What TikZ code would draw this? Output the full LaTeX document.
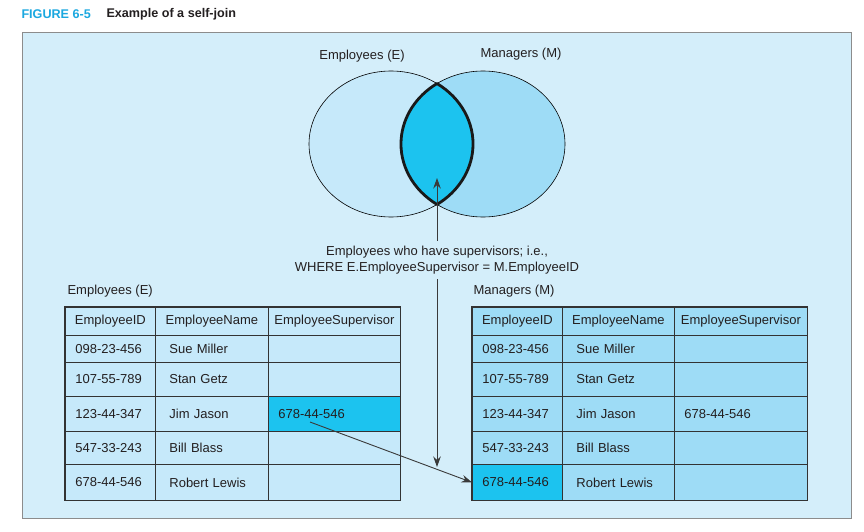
\documentclass[tikz,border=0pt]{standalone}
\usepackage{fontspec}
\setmainfont{Liberation Sans}
\usetikzlibrary{arrows.meta,shapes.geometric}
\definecolor{bgc}{HTML}{D4EEFA}
\definecolor{frameC}{HTML}{8C8C8C}
\definecolor{lightC}{HTML}{C6E9FA}
\definecolor{midC}{HTML}{9EDCF6}
\definecolor{hlC}{HTML}{1CC3EF}
\definecolor{txt}{HTML}{231F20}
\definecolor{lineC}{HTML}{333333}
\definecolor{arrC}{HTML}{3A3A3A}
\definecolor{titleC}{HTML}{1BA8E0}
\newcommand\setcols[6]{\def\xa{#1}\def\xb{#2}\def\xc{#3}\def\wa{#4}\def\wb{#5}\def\wc{#6}%
  \pgfmathsetmacro\twa{#4-20}\pgfmathsetmacro\twb{#5-28}\pgfmathsetmacro\twc{#6-20}%
  \pgfmathsetmacro\hwa{#4-2}\pgfmathsetmacro\hwb{#5-2}\pgfmathsetmacro\hwc{#6-2}}
\newcommand\hdrrow[3]{%
  \node[hdrbox,fill=#3,minimum width=\wa pt,text width=\hwa pt,minimum height=#2pt] (#1-h-1) at (\xa,307) {EmployeeID};
  \node[hdrbox,fill=#3,minimum width=\wb pt,text width=\hwb pt,minimum height=#2pt] (#1-h-2) at (\xb,307) {EmployeeName};
  \node[hdrbox,fill=#3,minimum width=\wc pt,text width=\hwc pt,minimum height=#2pt] (#1-h-3) at (\xc,307) {EmployeeSupervisor};}
\newcommand\datarow[9]{%
  \node[cellbox,fill=#7,minimum width=\wa pt,text width=\twa pt,inner xsep=10pt,minimum height=#3pt] (#1-1) at (\xa,#2) {#4};
  \node[cellbox,fill=#8,minimum width=\wb pt,text width=\twb pt,inner xsep=14pt,minimum height=#3pt] (#1-2) at (\xb,#2) {#5};
  \node[cellbox,fill=#9,minimum width=\wc pt,text width=\twc pt,inner xsep=10pt,minimum height=#3pt] (#1-3) at (\xc,#2) {#6};}
\begin{document}
\begin{tikzpicture}[x=1pt,y=-1pt,
  every node/.style={font=\fontsize{13}{16}\selectfont, text=txt},
  cellbox/.style={draw=lineC, line width=0.8pt, rectangle, anchor=north west, inner ysep=0pt, align=left},
  hdrbox/.style={cellbox, align=center, inner xsep=1pt},
  arr/.style={draw=arrC, line width=0.9pt, -{Stealth[length=10.5pt,width=7.5pt]}},
  titletext/.style={anchor=west, font=\bfseries\fontsize{12.6}{14}\selectfont},
  venn/.style={ellipse, draw=black, line width=0.6pt, minimum width=164pt, minimum height=146pt, inner sep=0pt},
  tabframe/.style={draw=lineC, line width=1.2pt}
]
\useasboundingbox (0,0) rectangle (864,532);
\fill[white] (0,0) rectangle (864,532);
% title
\node[titletext, text=titleC] (fig) at (18,14) {FIGURE 6-5};
\node[titletext] (ttl) at (103,14) {Example of a self-join};
% frame
\node[draw=frameC, fill=bgc, line width=1.4pt, minimum width=829pt, minimum height=486pt, anchor=north west, inner sep=0pt] (frame) at (22,32) {};
% Venn
\node[venn, fill=lightC] (vE) at (391,144) {};
\node[venn, fill=midC] (vM) at (483,144) {};
\draw[line width=2.8pt, draw=black!90, fill=hlC, line join=round]
  (437,83.55) arc[start angle=55.9, end angle=-55.9, x radius=82pt, y radius=73pt]
  arc[start angle=235.9, end angle=124.1, x radius=82pt, y radius=73pt] -- cycle;
\node (lblE) at (362,56) {Employees (E)};
\node (lblM) at (521,54) {Managers (M)};
% condition text
\node[align=center, inner ysep=5pt] (cond) at (437,260) {Employees who have supervisors; i.e.,\\WHERE E.EmployeeSupervisor = M.EmployeeID};
\coordinate (lensTip) at (437,178);
\coordinate (downTip) at (437,467);
\draw[arr] (cond.north) -- (lensTip);
\draw[arr] (cond.south) -- (downTip);
% left table
\node[anchor=west] (tlE) at (64,291) {Employees (E)};
\setcols{65}{155}{268}{90}{113}{132}
\hdrrow{L}{28}{lightC}
\datarow{L-1}{335}{27}{098-23-456}{Sue Miller}{}{lightC}{lightC}{lightC}
\datarow{L-2}{362}{34}{107-55-789}{Stan Getz}{}{lightC}{lightC}{lightC}
\datarow{L-3}{396}{35}{123-44-347}{Jim Jason}{678-44-546}{lightC}{lightC}{hlC}
\datarow{L-4}{431}{33}{547-33-243}{Bill Blass}{}{lightC}{lightC}{lightC}
\datarow{L-5}{464}{36}{678-44-546}{Robert Lewis}{}{lightC}{lightC}{lightC}
\draw[tabframe] (L-h-1.north west) rectangle (L-5-3.south east);
% right table
\node[anchor=west] (tlM) at (470,291) {Managers (M)};
\setcols{472}{562}{674}{90}{112}{133}
\hdrrow{R}{28}{midC}
\datarow{R-1}{335}{27}{098-23-456}{Sue Miller}{}{midC}{midC}{midC}
\datarow{R-2}{362}{34}{107-55-789}{Stan Getz}{}{midC}{midC}{midC}
\datarow{R-3}{396}{35}{123-44-347}{Jim Jason}{678-44-546}{midC}{midC}{midC}
\datarow{R-4}{431}{33}{547-33-243}{Bill Blass}{}{midC}{midC}{midC}
\datarow{R-5}{464}{36}{678-44-546}{Robert Lewis}{}{hlC}{midC}{midC}
\draw[tabframe] (R-h-1.north west) rectangle (R-5-3.south east);
% join arrow
\coordinate (src) at (310,422);
\draw[arr] (src) -- (R-5-1.west);
\end{tikzpicture}
\end{document}
